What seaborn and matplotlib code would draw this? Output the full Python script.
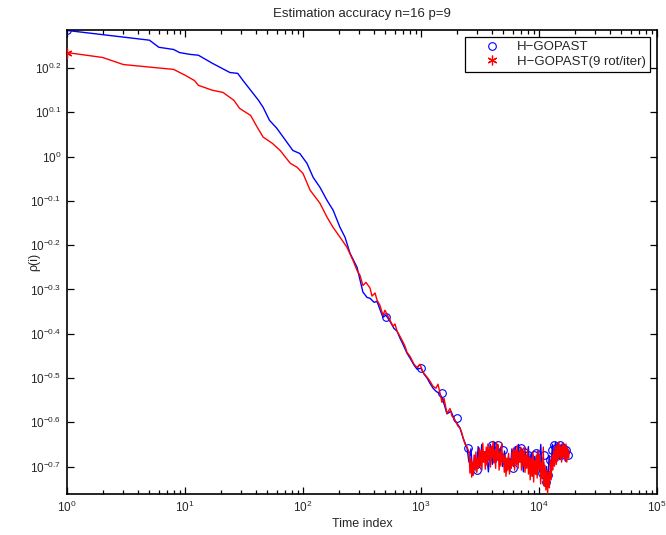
import numpy as np
import pandas as pd
import matplotlib
import matplotlib.pyplot as plt
import seaborn as sns
from matplotlib.ticker import FixedLocator, NullLocator, LogLocator, NullFormatter

# DATA (time index, log10 of rho)
blue_t = [1, 5, 6, 8, 9, 11, 13, 17, 24, 28, 31, 36, 42, 46, 52, 60, 68, 82, 94, 108,
          122, 139, 160, 180, 206, 227, 250, 287, 322, 349, 370, 400, 424, 449, 476, 505,
          546, 590, 626, 664, 704, 761, 807, 873, 925, 1000, 1060, 1125, 1191, 1265, 1340,
          1449, 1535, 1660, 1795, 1941, 2060, 2141, 2270, 2454,
          2550, 2650, 2750, 2850, 2950, 3050, 3150, 3275, 3425, 3575, 3725, 3875, 4025, 4175,
          4325, 4475, 4625, 4775, 4925, 5100, 5300, 5500, 5700, 5900, 6100, 6300, 6500, 6700,
          6900, 7125, 7375, 7625, 7875, 8125, 8375, 8625, 8875, 9150, 9450, 9750, 10050,
          10350, 10650, 10950, 11250, 11550, 11850, 12200, 12600, 13000, 13400, 13800, 14200,
          14600, 15000, 15400, 15800, 16250, 16750, 17250, 17750]
blue_log_rho = [0.285, 0.263, 0.247, 0.242, 0.235, 0.231, 0.229, 0.211, 0.190, 0.188,
                0.172, 0.150, 0.127, 0.111, 0.082, 0.064, 0.044, 0.014, 0.007, -0.015,
                -0.047, -0.069, -0.099, -0.121, -0.160, -0.182, -0.218, -0.250, -0.306, -0.318,
                -0.320, -0.329, -0.327, -0.345, -0.363, -0.358, -0.372, -0.388, -0.394, -0.410,
                -0.424, -0.444, -0.455, -0.471, -0.480, -0.478, -0.491, -0.500, -0.512, -0.523,
                -0.530, -0.536, -0.550, -0.581, -0.575, -0.597, -0.606, -0.613, -0.635, -0.658,
                -0.690, -0.660, -0.720, -0.675, -0.712, -0.655, -0.700, -0.650, -0.690, -0.665,
                -0.712, -0.650, -0.695, -0.645, -0.690, -0.650, -0.680, -0.655, -0.700, -0.665,
                -0.712, -0.678, -0.705, -0.660, -0.700, -0.655, -0.695, -0.650, -0.690, -0.660,
                -0.712, -0.665, -0.700, -0.655, -0.710, -0.672, -0.722, -0.680, -0.718, -0.665,
                -0.712, -0.650, -0.728, -0.690, -0.745, -0.700, -0.735, -0.675, -0.705, -0.650,
                -0.698, -0.645, -0.688, -0.648, -0.684, -0.650, -0.680, -0.655, -0.688, -0.660,
                -0.672]

red_t = [1, 2, 3, 8, 10, 12, 13, 17, 21, 26, 29, 36, 41, 46, 55, 64, 78, 89, 100, 115,
         139, 160, 180, 206, 236, 265, 287, 304, 322, 342, 370, 384, 408, 424, 449, 476,
         495, 515, 546, 579, 602, 626, 664, 704, 731, 761, 807, 839, 873, 925, 981, 1040,
         1125, 1191, 1265, 1340, 1393, 1449, 1507, 1567, 1660, 1762, 1832, 1941, 2060, 2141,
         2225, 2270, 2360, 2454, 2552,
         2600, 2640, 2690, 2730, 2780, 2820, 2870, 2920, 2970, 3020,
         3070, 3120, 3170, 3230, 3280, 3340, 3390, 3450, 3510, 3570,
         3630, 3690, 3750, 3820, 3880, 3950, 4010, 4080, 4150, 4220,
         4290, 4360, 4440, 4510, 4590, 4670, 4750, 4830, 4910, 4990,
         5080, 5160, 5250, 5340, 5430, 5520, 5620, 5710, 5810, 5910,
         6010, 6110, 6210, 6320, 6430, 6540, 6650, 6760, 6880, 6990,
         7110, 7230, 7360, 7480, 7610, 7740, 7870, 8010, 8140, 8280,
         8420, 8570, 8710, 8860, 9010, 9170, 9330, 9490, 9650, 9810,
         9980, 10150, 10330, 10500, 10680, 10870, 11050, 11240, 11440, 11630,
         11830, 12040, 12240, 12450, 12670, 12890, 13110, 13330, 13560, 13790,
         14030, 14270, 14510, 14760, 15020, 15270, 15540, 15800, 16070, 16350,
         16630, 16910, 17200, 17500, 17800, 18000]
red_log_rho = [0.235, 0.224, 0.208, 0.197, 0.184, 0.172, 0.161, 0.150, 0.145, 0.127,
               0.109, 0.093, 0.066, 0.044, 0.030, 0.014, -0.015, -0.024, -0.038, -0.076,
               -0.105, -0.137, -0.160, -0.182, -0.205, -0.234, -0.257, -0.268, -0.291, -0.284,
               -0.297, -0.315, -0.308, -0.324, -0.336, -0.358, -0.347, -0.356, -0.369, -0.383,
               -0.378, -0.394, -0.406, -0.419, -0.428, -0.442, -0.451, -0.460, -0.469, -0.476,
               -0.469, -0.487, -0.498, -0.507, -0.519, -0.523, -0.514, -0.534, -0.555, -0.546,
               -0.580, -0.569, -0.586, -0.595, -0.609, -0.613, -0.625, -0.635, -0.649, -0.656,
               -0.667,
               -0.715, -0.681, -0.724, -0.690, -0.719, -0.674, -0.708, -0.667, -0.713, -0.681,
               -0.704, -0.658, -0.699, -0.663, -0.708, -0.647, -0.690, -0.667, -0.706, -0.656,
               -0.697, -0.649, -0.686, -0.658, -0.701, -0.654, -0.681, -0.643, -0.692, -0.663,
               -0.704, -0.645, -0.686, -0.652, -0.708, -0.667, -0.699, -0.647, -0.690, -0.674,
               -0.713, -0.674, -0.722, -0.681, -0.708, -0.670, -0.717, -0.686, -0.704, -0.667,
               -0.699, -0.658, -0.708, -0.663, -0.695, -0.652, -0.704, -0.667, -0.690, -0.656,
               -0.708, -0.663, -0.699, -0.656, -0.713, -0.674, -0.704, -0.661, -0.717, -0.679,
               -0.730, -0.681, -0.722, -0.667, -0.735, -0.686, -0.717, -0.674, -0.726, -0.663,
               -0.708, -0.674, -0.739, -0.690, -0.726, -0.656, -0.744, -0.697, -0.753, -0.708,
               -0.762, -0.713, -0.748, -0.686, -0.730, -0.674, -0.708, -0.663, -0.699, -0.654,
               -0.695, -0.649, -0.686, -0.645, -0.681, -0.654, -0.690, -0.647, -0.679, -0.652,
               -0.686, -0.649, -0.690, -0.658, -0.681, -0.667]

# blue circles every 500 samples, red asterisk only shows at the start
marker_t = [1, 501, 1001, 1501, 2001, 2501, 3001, 3501, 4001, 4501, 5001, 5501, 6001, 6501,
            7001, 7501, 8001, 8501, 9001, 9501, 10001, 10501, 11001, 11501, 12001, 12501,
            13001, 13501, 14001, 14501, 15001, 15501, 16001, 16501, 17001, 17501]
blue_marker_log = [0.285, -0.363, -0.478, -0.534, -0.591, -0.659, -0.708, -0.674, -0.652,
                   -0.652, -0.663, -0.690, -0.704, -0.663, -0.659, -0.668, -0.674, -0.686,
                   -0.674, -0.670, -0.697, -0.715, -0.674, -0.735, -0.719, -0.686, -0.663,
                   -0.652, -0.659, -0.663, -0.652, -0.674, -0.659, -0.668, -0.663, -0.674]
red_marker_t = [1]
red_marker_log = [0.235]

y_exps = [0.2, 0.1, 0, -0.1, -0.2, -0.3, -0.4, -0.5, -0.6, -0.7]
x_exps = [0, 1, 2, 3, 4, 5]

blue_df = pd.DataFrame({'t': blue_t, 'rho': 10 ** np.array(blue_log_rho)})
red_df = pd.DataFrame({'t': red_t, 'rho': 10 ** np.array(red_log_rho)})

# STYLE
sns.set_style('ticks')
plt.rcParams['font.family'] = ['Liberation Sans', 'DejaVu Sans']
plt.rcParams['mathtext.fontset'] = 'custom'
plt.rcParams['mathtext.rm'] = 'Liberation Sans'
plt.rcParams['mathtext.default'] = 'regular'
plt.rcParams['font.size'] = 8.5

fig = plt.figure(figsize=(6.66, 5.35), dpi=100)
ax = fig.add_axes([67 / 666, 41 / 535, 590 / 666, 464 / 535])

sns.lineplot(data=blue_df, x='t', y='rho', color='b', lw=1.0, estimator=None, sort=False, ax=ax, zorder=2)
h1, = ax.plot(marker_t, 10 ** np.array(blue_marker_log), ls='none', marker='o', ms=5.5,
              mfc='none', mec='b', mew=0.8, zorder=3, label='H\u2212GOPAST')
sns.lineplot(data=red_df, x='t', y='rho', color='r', lw=1.0, estimator=None, sort=False, ax=ax, zorder=4)
h2, = ax.plot(red_marker_t, 10 ** np.array(red_marker_log), ls='none', marker=(6, 2, 0), ms=7,
              color='r', mew=0.9, zorder=5, label='H\u2212GOPAST(9 rot/iter)')

ax.set_xscale('log')
ax.set_yscale('log')
ax.set_xlim(1, 1e5)
ax.set_ylim(10 ** -0.762, 10 ** 0.286)

ax.xaxis.set_major_locator(FixedLocator([10.0 ** e for e in x_exps]))
ax.set_xticklabels(['$10^{%d}$' % e for e in x_exps])
ax.xaxis.set_minor_locator(LogLocator(base=10, subs=np.arange(2, 10)))
ax.xaxis.set_minor_formatter(NullFormatter())
ax.yaxis.set_major_locator(FixedLocator([10.0 ** e for e in y_exps]))
ax.set_yticklabels(['$10^{%s}$' % ('0' if e == 0 else '%g' % e) for e in y_exps])
ax.yaxis.set_minor_locator(NullLocator())

ax.tick_params(which='both', direction='in', top=True, right=True, labelsize=8.5, width=0.9, color='k')
ax.tick_params(which='major', length=5, pad=4)
ax.tick_params(which='minor', length=3)
for s in ax.spines.values():
    s.set_linewidth(1.2)
    s.set_color('k')

ax.set_title('Estimation accuracy n=16 p=9', fontsize=9.5, pad=9)
ax.set_xlabel('Time index', fontsize=9, labelpad=2)
ax.set_ylabel('ρ(i)', fontsize=9)
ax.yaxis.set_label_coords(-0.046, 0.5)

leg = ax.legend(handles=[h1, h2], loc='upper right', fontsize=9.5, fancybox=False, framealpha=1,
                edgecolor='k', handlelength=3.4, handletextpad=0.2, borderpad=0.35,
                labelspacing=0.15, borderaxespad=0.5)
leg.get_frame().set_linewidth(0.9)

fig.savefig('out.png', dpi=100)
